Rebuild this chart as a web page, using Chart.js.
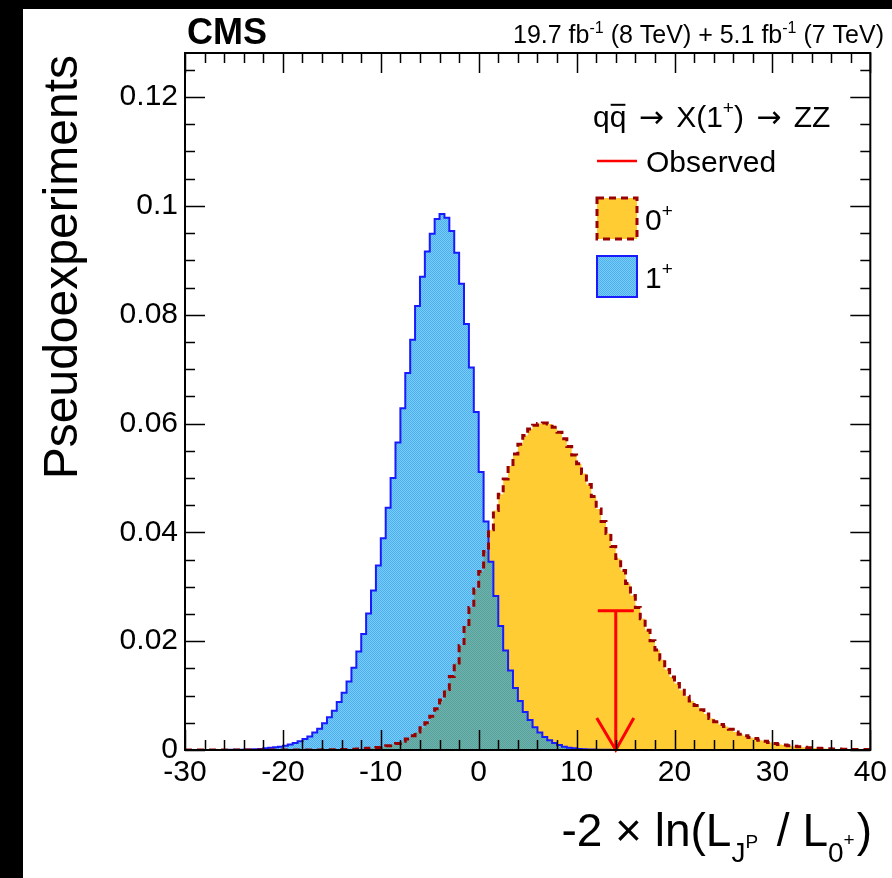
<!DOCTYPE html>
<html>
<head>
<meta charset="utf-8">
<script src="https://cdn.jsdelivr.net/npm/chart.js@4.4.1/dist/chart.umd.min.js"></script>
<style>
  html, body { margin: 0; padding: 0; background: #000; }
  #wrap { width: 892px; height: 878px; }
  canvas { display: block; }
</style>
</head>
<body>
<div id="wrap"><canvas id="c" width="892" height="878"></canvas></div>
<script>
// Histogram binning of the test statistic
const xMin = -30;
const xMax = 40;
const binWidth = 0.5;

// Axis ticks
const xTicks = [-30, -20, -10, 0, 10, 20, 30, 40];
const yTicks = [0, 0.02, 0.04, 0.06, 0.08, 0.1, 0.12];
const yMax = 0.1281;

// Pseudoexperiment distributions, one value per 0.5-wide bin from -30 to 40
const spin1Values = [
  0, 0, 0, 0, 0, 0, 0, 0, 0.00002, 0.00003,
  0.00004, 0.00006, 0.00008, 0.0001, 0.00015, 0.0002, 0.0003, 0.0004, 0.0005, 0.0006,
  0.0008, 0.0010, 0.0013, 0.0016, 0.0020, 0.0025, 0.0032, 0.0039, 0.0049, 0.0060,
  0.0072, 0.0088, 0.0105, 0.0126, 0.0151, 0.0181, 0.0213, 0.0251, 0.0293, 0.0339,
  0.0389, 0.0445, 0.0500, 0.0565, 0.0628, 0.0693, 0.0754, 0.0816, 0.0870, 0.0916,
  0.0949, 0.0976, 0.0985, 0.0978, 0.0954, 0.0914, 0.0857, 0.0783, 0.0703, 0.0621,
  0.0511, 0.0420, 0.0346, 0.0283, 0.0228, 0.0183, 0.0146, 0.0114, 0.0090, 0.0070,
  0.0055, 0.0042, 0.0032, 0.0024, 0.0018, 0.0013, 0.0009, 0.0006, 0.0004, 0.0003,
  0.0002, 0.00015, 0.0001, 0.00008, 0.00005, 0.00004, 0.00003, 0.00002, 0.00002, 0.00001,
  0, 0, 0, 0, 0, 0, 0, 0, 0, 0,
  0, 0, 0, 0, 0, 0, 0, 0, 0, 0,
  0, 0, 0, 0, 0, 0, 0, 0, 0, 0,
  0, 0, 0, 0, 0, 0, 0, 0, 0, 0,
  0, 0, 0, 0, 0, 0, 0, 0, 0, 0
];

const spin0Values = [
  0, 0, 0, 0, 0, 0, 0, 0, 0, 0,
  0, 0, 0, 0, 0, 0, 0, 0, 0, 0,
  0, 0, 0, 0, 0, 0, 0, 0, 0.00003, 0.00004,
  0.00005, 0.00006, 0.00008, 0.0001, 0.00013, 0.00017, 0.00022, 0.0003, 0.00035, 0.00045,
  0.0006, 0.0008, 0.0010, 0.0012, 0.0016, 0.0020, 0.0026, 0.0033, 0.0041, 0.0050,
  0.0062, 0.0076, 0.0092, 0.0111, 0.0135, 0.0160, 0.0192, 0.0228, 0.0262, 0.0296,
  0.0328, 0.0365, 0.0405, 0.0440, 0.0470, 0.0498, 0.0522, 0.0544, 0.0562, 0.0578,
  0.0590, 0.0597, 0.0600, 0.0601, 0.0599, 0.0593, 0.0584, 0.0572, 0.0558, 0.0542,
  0.0526, 0.0508, 0.0488, 0.0466, 0.0443, 0.0420, 0.0398, 0.0374, 0.0352, 0.0330,
  0.0306, 0.0284, 0.0262, 0.0241, 0.0220, 0.0201, 0.0184, 0.0166, 0.0148, 0.0134,
  0.0122, 0.0110, 0.0099, 0.0090, 0.0082, 0.0074, 0.0066, 0.0058, 0.0052, 0.0047,
  0.0043, 0.0038, 0.0033, 0.0029, 0.0026, 0.0023, 0.0021, 0.0018, 0.0016, 0.0014,
  0.0012, 0.0010, 0.0009, 0.0008, 0.0007, 0.0006, 0.0005, 0.0004, 0.00035, 0.0003,
  0.00027, 0.00024, 0.0002, 0.00018, 0.00015, 0.00013, 0.00011, 0.0001, 0.00009, 0.00008
];

// Observed value of the test statistic and the height of its marker
const observedValue = 14.0;
const observedHeight = 0.0256;

const FONT = '"Liberation Sans", Arial, Helvetica, sans-serif';
const ARROW_FONT = '"DejaVu Sans", sans-serif';
const ORANGE = '#ffcc33';
const DARK_RED = '#990000';
const BLUE_LINE = '#1a1aff';

// Step-histogram points: one point per bin's left edge, plus the closing right edge
function toSteps(values) {
  const pts = values.map((v, i) => ({ x: xMin + i * binWidth, y: v }));
  pts.push({ x: xMax, y: values[values.length - 1] });
  return pts;
}

// Checkered blue fill used for the 1+ hypothesis; it is translucent so the 0+ fill shows through
function makeHatch(ctx) {
  const pc = document.createElement('canvas');
  pc.width = 2; pc.height = 2;
  const g = pc.getContext('2d');
  g.clearRect(0, 0, 2, 2);
  g.fillStyle = 'rgba(0, 148, 236, 0.72)';
  g.fillRect(0, 0, 1, 1);
  g.fillRect(1, 1, 1, 1);
  g.fillStyle = 'rgba(0, 148, 236, 0.5)';
  g.fillRect(1, 0, 1, 1);
  g.fillRect(0, 1, 1, 1);
  return ctx.createPattern(pc, 'repeat');
}

function font(size, bold, family) {
  return (bold ? 'bold ' : '') + size + 'px ' + (family || FONT);
}

// Draw a run of text pieces (with sub/superscripts) on one baseline
function drawRuns(ctx, runs, x, y, align) {
  let total = 0;
  for (const r of runs) {
    ctx.font = font(r.s, r.b, r.f);
    r.w = ctx.measureText(r.t).width;
    total += r.w + (r.gap || 0) + (r.pre || 0);
  }
  let cx = align === 'right' ? x - total : x;
  ctx.textAlign = 'left';
  ctx.textBaseline = 'alphabetic';
  for (const r of runs) {
    cx += r.pre || 0;
    ctx.font = font(r.s, r.b, r.f);
    ctx.fillText(r.t, cx, y + (r.dy || 0));
    if (r.over) {
      ctx.save();
      ctx.lineWidth = 2;
      ctx.strokeStyle = ctx.fillStyle;
      ctx.beginPath();
      const oy = y - r.s * 0.74;
      ctx.moveTo(cx + 1, oy);
      ctx.lineTo(cx + r.w - 1, oy);
      ctx.stroke();
      ctx.restore();
    }
    cx += r.w + (r.gap || 0);
  }
}

const canvas = document.getElementById('c');
const ctx0 = canvas.getContext('2d');
const hatch = makeHatch(ctx0);

// Page background: dark margin strip and white drawing pad
const backdrop = {
  id: 'backdrop',
  beforeDraw(chart) {
    const c = chart.ctx;
    c.save();
    c.fillStyle = '#000';
    c.fillRect(0, 0, chart.width, chart.height);
    c.fillStyle = '#fff';
    c.fillRect(23, 9, chart.width - 23, chart.height - 9);
    c.restore();
  }
};

// Observed marker, frame and inward tick marks on all four sides
const frameAndMarker = {
  id: 'frameAndMarker',
  afterDatasetsDraw(chart) {
    const c = chart.ctx;
    const xs = chart.scales.x, ys = chart.scales.y;
    const a = chart.chartArea;

    // observed value: vertical line with a cap and an arrow head at zero
    const px = xs.getPixelForValue(observedValue);
    const p0 = ys.getPixelForValue(0);
    const p1 = ys.getPixelForValue(observedHeight);
    c.save();
    c.strokeStyle = '#ff0000';
    c.lineWidth = 3;
    c.beginPath();
    c.moveTo(px, p0); c.lineTo(px, p1);
    c.moveTo(px - 18, p1); c.lineTo(px + 18, p1);
    c.moveTo(px - 19, p0 - 32); c.lineTo(px, p0); c.lineTo(px + 18, p0 - 32);
    c.stroke();
    c.restore();

    c.save();
    c.strokeStyle = '#000';
    c.lineWidth = 1.5;
    c.beginPath();
    // x ticks: major every 10, minor every 2
    for (let v = xMin; v <= xMax + 1e-9; v += 2) {
      const major = Math.abs(v % 10) < 1e-9;
      const len = major ? 20 : 10;
      const x = Math.round(xs.getPixelForValue(v)) + 0.5;
      c.moveTo(x, a.bottom); c.lineTo(x, a.bottom - len);
      c.moveTo(x, a.top); c.lineTo(x, a.top + len);
    }
    // y ticks: major every 0.02, minor every 0.005
    for (let k = 0; k * 0.005 <= yMax; k++) {
      const v = k * 0.005;
      const len = k % 4 === 0 ? 20 : 10;
      const y = Math.round(ys.getPixelForValue(v)) + 0.5;
      c.moveTo(a.left, y); c.lineTo(a.left + len, y);
      c.moveTo(a.right, y); c.lineTo(a.right - len, y);
    }
    c.stroke();
    c.lineWidth = 2;
    c.strokeRect(a.left, a.top, a.right - a.left, a.bottom - a.top);
    c.restore();
  },

  afterDraw(chart) {
    const c = chart.ctx;
    c.save();
    c.fillStyle = '#000';

    // experiment label and luminosity
    drawRuns(c, [{ t: 'CMS', s: 36, b: true }], 187, 44, 'left');
    drawRuns(c, [
      { t: '19.7 fb', s: 25 }, { t: '-1', s: 16, dy: -10 },
      { t: ' (8 TeV) + 5.1 fb', s: 25 }, { t: '-1', s: 16, dy: -10 },
      { t: ' (7 TeV)', s: 25 }
    ], 884, 43, 'right');

    // legend header
    drawRuns(c, [
      { t: 'q', s: 30 }, { t: 'q', s: 30, over: true },
      { t: ' ', s: 30 }, { t: '\u2192', s: 30, f: ARROW_FONT, pre: 4, gap: 4 }, { t: ' X(1', s: 30 },
      { t: '+', s: 19, dy: -13 },
      { t: ') ', s: 30 }, { t: '\u2192', s: 30, f: ARROW_FONT, pre: 4, gap: 4 }, { t: ' ZZ', s: 30 }
    ], 593, 127, 'left');

    // legend: observed
    c.save();
    c.strokeStyle = '#ff0000';
    c.lineWidth = 2.5;
    c.beginPath();
    c.moveTo(597, 161); c.lineTo(637, 161);
    c.stroke();
    c.restore();
    drawRuns(c, [{ t: 'Observed', s: 30 }], 646, 172, 'left');

    // legend: 0+ box
    c.save();
    c.fillStyle = ORANGE;
    c.fillRect(597, 198, 40, 41);
    c.strokeStyle = DARK_RED;
    c.lineWidth = 3;
    c.setLineDash([7, 5]);
    c.strokeRect(597, 198, 40, 41);
    c.restore();
    drawRuns(c, [{ t: '0', s: 30 }, { t: '+', s: 19, dy: -13 }], 645, 230, 'left');

    // legend: 1+ box
    c.save();
    c.fillStyle = hatch;
    c.fillRect(597, 256, 40, 41);
    c.strokeStyle = BLUE_LINE;
    c.lineWidth = 2;
    c.strokeRect(597, 256, 40, 41);
    c.restore();
    drawRuns(c, [{ t: '1', s: 30 }, { t: '+', s: 19, dy: -13 }], 645, 288, 'left');

    // y axis title
    c.save();
    c.translate(77, 55);
    c.rotate(-Math.PI / 2);
    c.font = font(48);
    c.textAlign = 'right';
    c.textBaseline = 'alphabetic';
    c.fillText('Pseudoexperiments', 0, 0);
    c.restore();

    // x axis title
    drawRuns(c, [
      { t: '-2 \u00d7 ln(L', s: 46 },
      { t: 'J', s: 28, dy: 16 }, { t: 'P', s: 19, dy: 2, gap: 6 },
      { t: ' / L', s: 46 },
      { t: '0', s: 28, dy: 16 }, { t: '+', s: 19, dy: 0, gap: 2 },
      { t: ')', s: 46 }
    ], 872, 846, 'right');

    c.restore();
  }
};

const steps1 = toSteps(spin1Values);
const steps0 = toSteps(spin0Values);

new Chart(canvas, {
  type: 'line',
  data: {
    datasets: [
      { label: '0+ outline', data: steps0, stepped: true, fill: false,
        borderColor: DARK_RED, borderWidth: 3, borderDash: [7, 5],
        pointRadius: 0, order: 0 },
      { label: '1+', data: steps1, stepped: true, fill: 'origin',
        backgroundColor: hatch, borderColor: BLUE_LINE, borderWidth: 2,
        pointRadius: 0, order: 1 },
      { label: '0+', data: steps0, stepped: true, fill: 'origin',
        backgroundColor: ORANGE, borderColor: 'rgba(0,0,0,0)', borderWidth: 1,
        pointRadius: 0, order: 2 }
    ]
  },
  options: {
    responsive: false,
    animation: false,
    events: [],
    layout: { padding: { top: 53, right: 17, left: 0, bottom: 0 } },
    plugins: { legend: { display: false }, tooltip: { enabled: false } },
    scales: {
      x: {
        type: 'linear', min: xMin, max: xMax,
        grid: { display: false, drawTicks: false },
        border: { display: false },
        ticks: {
          color: '#000', font: { family: FONT, size: 30 }, padding: 5,
          maxRotation: 0, autoSkip: false, callback: v => String(v)
        },
        afterBuildTicks: s => { s.ticks = xTicks.map(v => ({ value: v })); },
        afterFit: s => { s.height = 128; }
      },
      y: {
        type: 'linear', min: 0, max: yMax,
        grid: { display: false, drawTicks: false },
        border: { display: false },
        ticks: {
          color: '#000', font: { family: FONT, size: 30 }, padding: 7,
          autoSkip: false, callback: v => String(+Number(v).toFixed(2))
        },
        afterBuildTicks: s => { s.ticks = yTicks.map(v => ({ value: v })); },
        afterFit: s => { s.width = 185; }
      }
    }
  },
  plugins: [backdrop, frameAndMarker]
});
</script>
</body>
</html>
